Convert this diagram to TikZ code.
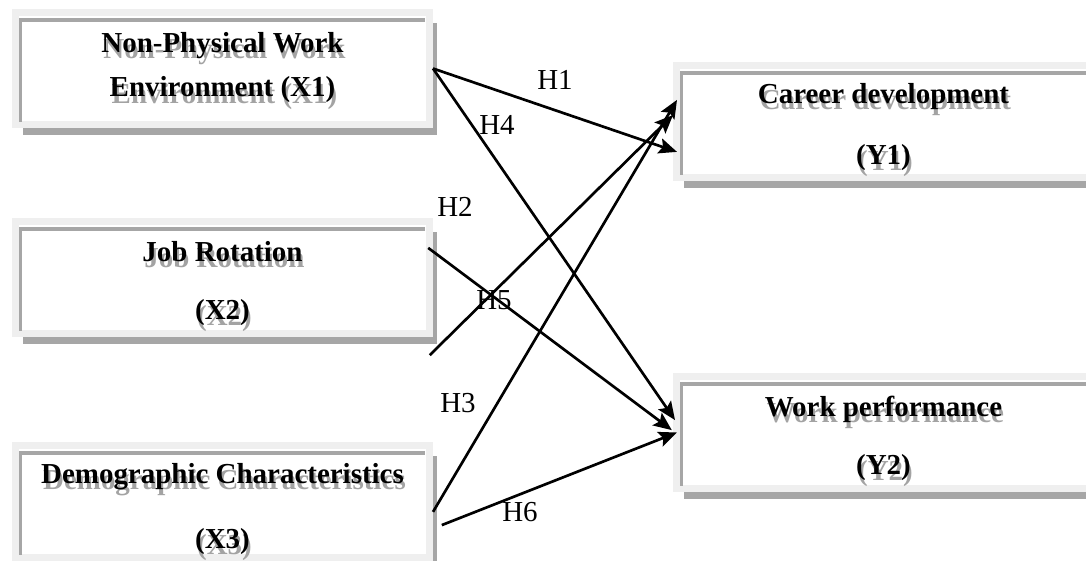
\documentclass[tikz,border=0pt]{standalone}
\usepackage{fontspec}
\setmainfont{Liberation Serif}
\usepackage{tikz}
\usetikzlibrary{arrows.meta, shadows}
\usepackage{xcolor}
\definecolor{frameGray}{HTML}{EFEFEF}
\definecolor{edgeGray}{HTML}{A6A6A6}
\definecolor{textShade}{HTML}{A3A3A3}
\newcommand{\shadetxt}[1]{\leavevmode\rlap{\smash{\hspace{1.4pt}\raisebox{-4.5pt}{\textcolor{textShade}{#1}}}}#1}

\begin{document}
\begin{tikzpicture}[
  varnode/.style={draw=frameGray, line width=0.175cm, fill=white, minimum width=10.35cm, minimum height=2.8cm, inner sep=0pt,
    drop shadow={shadow xshift=0.19cm, shadow yshift=-0.26cm, fill=edgeGray, opacity=1}},
  vartext/.style={align=center, inner sep=0pt, font=\fontsize{20.6pt}{31.7pt}\selectfont\bfseries},
  hyplabel/.style={inner sep=0pt, font=\fontsize{20.6pt}{24pt}\selectfont},
  arrow/.style={-{Stealth[length=13pt, width=11pt, inset=2.5pt]}, line width=1.9pt}
]
\useasboundingbox (0,0) rectangle (27.15,14.025);
\clip (0,0) rectangle (27.15,14.025);

\node[varnode] (x1) at (5.5625,12.3125) {};
\node[varnode] (x2) at (5.5625,7.0875) {};
\node[varnode] (x3) at (5.5625,1.4875) {};
\node[varnode] (y1) at (22.0875,10.9875) {};
\node[varnode] (y2) at (22.0875,3.2125) {};

\foreach \n in {x1,x2,x3,y1,y2}
  \draw[edgeGray, line width=0.09cm] ([shift={(0.21,0.15)}]\n.south west) |- ([shift={(-0.2,-0.275)}]\n.north east);

\node[vartext] (x1t) at (5.5625,12.3375) {\shadetxt{Non-Physical Work}\\\shadetxt{Environment (X1)}};
\node[vartext] (x2t) at (5.5625,6.9375) {\shadetxt{Job Rotation}\\[9.6pt]\shadetxt{(X2)}};
\node[vartext] (x3t) at (5.5625,1.3) {\shadetxt{Demographic Characteristics}\\[14.5pt]\shadetxt{(X3)}};
\node[vartext] (y1t) at (22.0875,10.85) {\shadetxt{Career development}\\[11.7pt]\shadetxt{(Y1)}};
\node[vartext] (y2t) at (22.0875,3.0625) {\shadetxt{Work performance}\\[9.6pt]\shadetxt{(Y2)}};

\draw[arrow] (x1.east) -- ([shift={(0.1,-0.76)}]y1.west);
\draw[arrow] ([shift={(-0.08,-1.94)}]x2.east) -- ([shift={(0,0.16)}]y1.west);
\draw[arrow] ([yshift=-0.26cm]x3.east) -- ([shift={(0.1,0.54)}]y1.west);
\draw[arrow] (x1.east) -- ([shift={(0.05,0.31)}]y2.west);
\draw[arrow] ([shift={(-0.12,0.74)}]x2.east) -- ([shift={(-0.03,0.06)}]y2.west);
\draw[arrow] ([shift={(0.22,-0.59)}]x3.east) -- ([shift={(0.1,0)}]y2.west);

\node[hyplabel] (h1) at (13.875,12.025) {H1};
\node[hyplabel] (h2) at (11.375,8.85) {H2};
\node[hyplabel] (h3) at (11.45,3.95) {H3};
\node[hyplabel] (h4) at (12.425,10.9) {H4};
\node[hyplabel] (h5) at (12.35,6.525) {H5};
\node[hyplabel] (h6) at (13.0,1.225) {H6};
\end{tikzpicture}
\end{document}
